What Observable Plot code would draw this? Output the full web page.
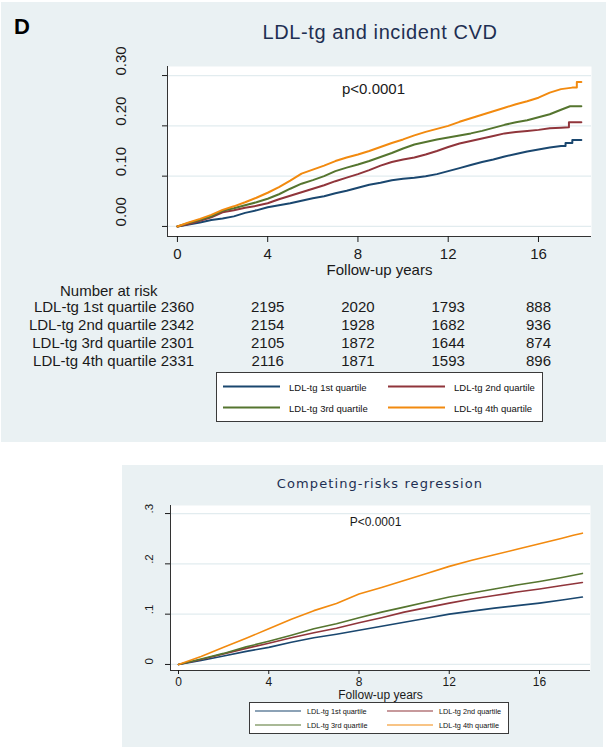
<!DOCTYPE html>
<html><head><meta charset="utf-8">
<script src="https://cdn.jsdelivr.net/npm/d3@7"></script>
<script src="https://cdn.jsdelivr.net/npm/@observablehq/plot@0.6"></script>
<style>
body{margin:0;width:610px;height:750px;position:relative;background:#fff;overflow:hidden;font-family:Arial,"Liberation Sans",Helvetica,sans-serif}
.panel{position:absolute;background:#eaf1f3}
.legend{position:absolute;background:#fff;border:1.5px solid #3a3a3a;box-sizing:border-box}
.item{position:absolute;display:flex;align-items:center;white-space:nowrap;color:#111;transform:translateY(-50%)}
</style></head><body>
<script>
// ---------- data ----------
const groups = ["LDL-tg 1st quartile","LDL-tg 2nd quartile","LDL-tg 3rd quartile","LDL-tg 4th quartile"];
const colors = ["#1a476f","#90353b","#55752f","#f28a0f"];

const xTicks = [0,4,8,12,16];
const xTickLabels = ["0","4","8","12","16"];
const yTicksKM = [0,0.1,0.2,0.3];
const yTickLabelsKM = ["0.00","0.10","0.20","0.30"];
const yTicksCR = [0,0.1,0.2,0.3];
const yTickLabelsCR = ["0",".1",".2",".3"];
const xDomainKM = [-0.44,18.35];
const yDomainKM = [-0.02,0.318];
const xDomainCR = [-0.355,18.26];
const yDomainCR = [-0.012,0.316];

// Kaplan-Meier cumulative incidence (top) [year, value]
const km1 = [[0,0],[0.5,0.004],[1,0.008],[1.5,0.013],[2,0.016],[2.5,0.020],[3,0.027],[3.5,0.032],[4,0.038],[4.5,0.042],[5,0.046],[5.5,0.051],[6,0.056],[6.5,0.060],[7,0.066],[7.5,0.071],[8,0.077],[8.5,0.083],[9,0.087],[9.5,0.092],[10,0.095],[10.5,0.097],[11,0.100],[11.5,0.104],[12,0.110],[12.5,0.116],[13,0.122],[13.5,0.128],[14,0.133],[14.5,0.139],[15,0.144],[15.5,0.149],[16,0.153],[16.5,0.157],[17,0.160],[17.2,0.160],[17.2,0.166],[17.5,0.166],[17.5,0.172],[17.9,0.172]];
const km2 = [[0,0],[0.5,0.005],[1,0.011],[1.5,0.018],[2,0.028],[2.5,0.032],[3,0.037],[3.5,0.041],[4,0.046],[4.5,0.054],[5,0.061],[5.5,0.068],[6,0.075],[6.5,0.082],[7,0.090],[7.5,0.097],[8,0.104],[8.5,0.112],[9,0.121],[9.5,0.128],[10,0.133],[10.5,0.137],[11,0.143],[11.5,0.150],[12,0.158],[12.5,0.165],[13,0.170],[13.5,0.175],[14,0.180],[14.5,0.185],[15,0.188],[15.5,0.190],[16,0.192],[16.5,0.195],[17,0.196],[17.35,0.197],[17.35,0.207],[17.9,0.207]];
const km3 = [[0,0],[0.5,0.007],[1,0.013],[1.5,0.020],[2,0.031],[2.5,0.036],[3,0.042],[3.5,0.048],[4,0.055],[4.5,0.064],[5,0.075],[5.5,0.085],[6,0.092],[6.5,0.100],[7,0.110],[7.5,0.117],[8,0.123],[8.5,0.130],[9,0.138],[9.5,0.146],[10,0.155],[10.5,0.163],[11,0.168],[11.5,0.173],[12,0.177],[12.5,0.181],[13,0.185],[13.5,0.190],[14,0.196],[14.5,0.202],[15,0.207],[15.5,0.211],[16,0.217],[16.5,0.223],[17,0.232],[17.4,0.239],[17.9,0.239]];
const km4 = [[0,0],[0.5,0.008],[1,0.015],[1.5,0.023],[2,0.033],[2.5,0.040],[3,0.048],[3.5,0.057],[4,0.067],[4.5,0.078],[5,0.091],[5.5,0.105],[6,0.113],[6.5,0.121],[7,0.130],[7.5,0.137],[8,0.143],[8.5,0.150],[9,0.158],[9.5,0.166],[10,0.173],[10.5,0.181],[11,0.188],[11.5,0.194],[12,0.200],[12.5,0.208],[13,0.215],[13.5,0.222],[14,0.229],[14.5,0.236],[15,0.243],[15.5,0.249],[16,0.256],[16.3,0.262],[16.5,0.266],[17,0.273],[17.5,0.276],[17.7,0.276],[17.7,0.287],[17.9,0.287]];

// Competing-risks cumulative incidence (bottom)
const cr1 = [[0,0],[1,0.008],[2,0.017],[3,0.026],[4,0.034],[5,0.044],[6,0.053],[7,0.060],[8,0.068],[9,0.076],[10,0.084],[11,0.092],[12,0.100],[13,0.106],[14,0.112],[15,0.117],[16,0.122],[17,0.128],[17.9,0.134]];
const cr2 = [[0,0],[1,0.010],[2,0.021],[3,0.032],[4,0.042],[5,0.053],[6,0.063],[7,0.072],[8,0.083],[9,0.093],[10,0.104],[11,0.113],[12,0.122],[13,0.130],[14,0.137],[15,0.144],[16,0.150],[17,0.157],[17.9,0.163]];
const cr3 = [[0,0],[1,0.011],[2,0.022],[3,0.035],[4,0.046],[5,0.058],[6,0.071],[7,0.081],[8,0.093],[9,0.104],[10,0.114],[11,0.124],[12,0.134],[13,0.142],[14,0.150],[15,0.158],[16,0.165],[17,0.173],[17.9,0.181]];
const cr4 = [[0,0],[1,0.016],[2,0.034],[3,0.052],[4,0.071],[5,0.090],[6,0.107],[7,0.121],[8,0.140],[9,0.153],[10,0.167],[11,0.181],[12,0.195],[13,0.207],[14,0.218],[15,0.229],[16,0.240],[17,0.251],[17.5,0.257],[17.9,0.261]];

// Number at risk
const riskYears = [0,4,8,12,16];
const risk1 = [2360,2195,2020,1793,888];
const risk2 = [2342,2154,1928,1682,936];
const risk3 = [2301,2105,1872,1644,874];
const risk4 = [2331,2116,1871,1593,896];

const titleKM = "LDL-tg and incident CVD";
const titleCR = "Competing-risks regression";
const panelLetter = "D";
const pTextKM = "p<0.0001";
const pTextCR = "P<0.0001";
const xLabel = "Follow-up years";
const riskHeader = "Number at risk";

// ---------- build ----------
const FONT = "Arial, 'Liberation Sans', Helvetica, sans-serif";
const AXIS = "#333";
const GRID = "#e2ecef";
const toRows = (series) => series.flatMap((pts, i) => pts.map(([year, v]) => ({group: groups[i], year, v})));
const kmRows = toRows([km1, km2, km3, km4]);
const crRows = toRows([cr1, cr2, cr3, cr4]);
const riskRows = [risk1, risk2, risk3, risk4].flatMap((arr, i) => arr.map((n, j) => ({group: groups[i], year: riskYears[j], n})));

function place(el, left, top) {
  el.style.position = "absolute"; el.style.left = left + "px"; el.style.top = top + "px";
  document.body.appendChild(el); return el;
}
function panel(left, top, w, h) {
  const d = document.createElement("div"); d.className = "panel";
  d.style.width = w + "px"; d.style.height = h + "px";
  return place(d, left, top);
}
panel(1, 2, 605, 440);
panel(122, 465, 481, 282);

// titles overlay
const overlay = d3.create("svg").attr("width", 610).attr("height", 750)
  .style("position", "absolute").style("left", "0px").style("top", "0px").style("pointer-events", "none");
overlay.append("text").attr("x", 14).attr("y", 34).attr("font-family", FONT).attr("font-weight", "bold")
  .attr("font-size", 22).attr("fill", "#000").text(panelLetter);
overlay.append("text").attr("x", 380).attr("y", 39).attr("text-anchor", "middle").attr("font-family", FONT)
  .attr("font-size", 20).attr("letter-spacing", "0.6px").attr("fill", "#1e2f52").text(titleKM);
overlay.append("text").attr("x", 380).attr("y", 488).attr("text-anchor", "middle").attr("font-family", "'DejaVu Sans', Verdana, sans-serif")
  .attr("font-size", 13).attr("letter-spacing", "1.1px").attr("fill", "#1e2f52").text(titleCR);

const style = {background: "transparent", fontFamily: FONT, color: "#1a1a1a", overflow: "visible"};

// top KM chart
const kmPlot = Plot.plot({
  width: 610, height: 280,
  marginLeft: 167, marginRight: 19, marginTop: 66, marginBottom: 44,
  style,
  x: {domain: xDomainKM},
  y: {domain: yDomainKM},
  color: {domain: groups, range: colors},
  marks: [
    Plot.frame({fill: "white", stroke: "none"}),
    Plot.ruleY(yTicksKM, {stroke: GRID, strokeWidth: 1.3}),
    Plot.line(kmRows, {x: "year", y: "v", stroke: "group", strokeWidth: 2}),
    Plot.ruleX([xDomainKM[0]], {stroke: AXIS}),
    Plot.ruleY([yDomainKM[0]], {stroke: AXIS}),
    Plot.axisX({ticks: xTicks, tickFormat: d => xTickLabels[xTicks.indexOf(d)], tickSize: 6, tickPadding: 6, fontSize: 15, label: null}),
    Plot.axisY({ticks: yTicksKM, tickFormat: () => "", tickSize: 5, label: null}),
    Plot.text(yTicksKM, {y: d => d, text: (d, i) => yTickLabelsKM[i], frameAnchor: "left", dx: -46.5, rotate: -90, fontSize: 15, lineAnchor: "middle"}),
    Plot.text([xLabel], {text: d => d, frameAnchor: "bottom", dy: 33.5, fontSize: 15, lineAnchor: "middle"}),
    Plot.text([pTextKM], {text: d => d, frameAnchor: "top", dx: -6, dy: 23, fontSize: 15, lineAnchor: "middle"})
  ]
});
place(kmPlot, 0, 0);

// number at risk table
const riskPlot = Plot.plot({
  width: 610, height: 95,
  marginLeft: 167, marginRight: 19, marginTop: 26, marginBottom: 13.5,
  style,
  x: {domain: xDomainKM, axis: null},
  y: {type: "point", domain: groups, padding: 0, axis: null},
  marks: [
    Plot.axisY({tickSize: 0, tickPadding: 11, fontSize: 15, label: null}),
    Plot.text(riskRows, {x: "year", y: "group", text: d => String(d.n), fontSize: 15, lineAnchor: "middle"}),
    Plot.text([riskHeader], {text: d => d, frameAnchor: "top-left", textAnchor: "end", dx: -10, dy: -15.3, fontSize: 15, lineAnchor: "middle"})
  ]
});
place(riskPlot, 0, 280);

// bottom competing-risks chart
const crPlot = Plot.plot({
  width: 610, height: 240,
  marginLeft: 170, marginRight: 20, marginTop: 40, marginBottom: 35,
  style,
  x: {domain: xDomainCR},
  y: {domain: yDomainCR},
  color: {domain: groups, range: colors},
  marks: [
    Plot.frame({fill: "white", stroke: "none"}),
    Plot.ruleY(yTicksCR, {stroke: GRID, strokeWidth: 1.3}),
    Plot.line(crRows, {x: "year", y: "v", stroke: "group", strokeWidth: 1.6}),
    Plot.ruleX([xDomainCR[0]], {stroke: AXIS}),
    Plot.ruleY([yDomainCR[0]], {stroke: AXIS}),
    Plot.axisX({ticks: xTicks, tickFormat: d => xTickLabels[xTicks.indexOf(d)], tickSize: 4, tickPadding: 2.5, fontSize: 12, label: null}),
    Plot.axisY({ticks: yTicksCR, tickFormat: () => "", tickSize: 5, label: null}),
    Plot.text(yTicksCR, {y: d => d, text: (d, i) => yTickLabelsCR[i], frameAnchor: "left", dx: -21, rotate: -90, fontSize: 11.5, lineAnchor: "middle"}),
    Plot.text([xLabel], {text: d => d, frameAnchor: "bottom", dy: 24.5, fontSize: 12, lineAnchor: "middle"}),
    Plot.text([pTextCR], {text: d => d, frameAnchor: "top", dx: -5, dy: 17, fontSize: 12, lineAnchor: "middle"})
  ]
});
place(crPlot, 0, 465);

document.body.appendChild(overlay.node());

// legends
function legend(left, top, w, h, opt) {
  const box = document.createElement("div"); box.className = "legend";
  box.style.width = w + "px"; box.style.height = h + "px";
  place(box, left, top);
  groups.forEach((g, i) => {
    const col = i % 2, row = Math.floor(i / 2);
    const it = document.createElement("div"); it.className = "item";
    it.style.left = opt.cols[col] + "px"; it.style.top = opt.rows[row] + "px";
    it.style.fontSize = opt.font + "px";
    const ln = document.createElement("div");
    ln.style.width = opt.lineW + "px"; ln.style.height = "0px";
    ln.style.borderTop = opt.lineT + "px solid " + colors[i];
    ln.style.marginRight = opt.gap + "px";
    const tx = document.createElement("span"); tx.textContent = g;
    it.appendChild(ln); it.appendChild(tx);
    box.appendChild(it);
  });
}
legend(216, 372, 327, 50, {cols: [5.5, 170.5], rows: [13.5, 34.5], font: 9.5, lineW: 57, lineT: 2, gap: 9.5});
legend(249, 702, 260, 32, {cols: [4.5, 136.5], rows: [7.5, 21.5], font: 7.3, lineW: 46, lineT: 1.6, gap: 6.5});
</script>
</body></html>
